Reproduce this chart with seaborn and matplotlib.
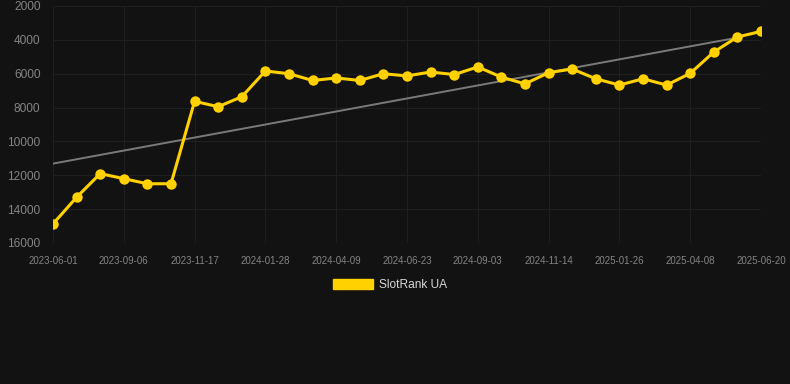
import matplotlib
matplotlib.use("Agg")
import matplotlib.pyplot as plt
from matplotlib.patches import Patch
import seaborn as sns
import pandas as pd

dates = ["2023-06-01", "2023-07-03", "2023-08-04", "2023-09-06", "2023-10-01", "2023-10-24",
         "2023-11-17", "2023-12-11", "2024-01-04", "2024-01-28", "2024-02-21", "2024-03-16",
         "2024-04-09", "2024-05-04", "2024-05-29", "2024-06-23", "2024-07-17", "2024-08-10",
         "2024-09-03", "2024-09-27", "2024-10-21", "2024-11-14", "2024-12-08", "2025-01-01",
         "2025-01-26", "2025-02-18", "2025-03-15", "2025-04-08", "2025-05-02", "2025-05-26",
         "2025-06-20"]
ranks = [14870, 13300, 11900, 12200, 12500, 12500, 7630, 7950, 7360, 5840, 6000, 6400,
         6250, 6400, 6000, 6130, 5900, 6050, 5600, 6200, 6600, 5940, 5720, 6300, 6670,
         6300, 6670, 5980, 4720, 3830, 3500]
trend_idx = [0, 29]
trend_vals = [11310, 3870]
series_name = "SlotRank UA"
y_ticks = [2000, 4000, 6000, 8000, 10000, 12000, 14000, 16000]

BG = "#121212"
YELLOW = "#FFD100"
GRID = "#1f1f1f"
TICK = "#848484"

sns.set_theme(style="dark")
plt.rcParams["font.family"] = ["Liberation Sans", "DejaVu Sans"]

df = pd.DataFrame({"idx": range(len(dates)), "rank": ranks})
tdf = pd.DataFrame({"idx": trend_idx, "rank": trend_vals})

fig = plt.figure(figsize=(7.9, 3.84), dpi=100, facecolor=BG)
ax = fig.add_axes([53 / 790, 1 - 243 / 384, (761 - 53) / 790, (243 - 6) / 384])
ax.set_facecolor(BG)

sns.lineplot(data=tdf, x="idx", y="rank", ax=ax, color="#7a7a7a", linewidth=1.4, zorder=2)
sns.lineplot(data=df, x="idx", y="rank", ax=ax, color=YELLOW, linewidth=2.2, marker="o",
             markersize=7.5, markeredgewidth=0, markerfacecolor=YELLOW, zorder=3)

ax.set_xlim(0, len(dates) - 1)
ax.set_ylim(16000, 2000)
ax.set_yticks(y_ticks)
ax.set_yticklabels([str(v) for v in y_ticks])
ax.set_xticks(list(range(0, len(dates), 3)))
ax.set_xticklabels(dates[::3])
ax.set_xlabel("")
ax.set_ylabel("")

ax.grid(True, color=GRID, linewidth=0.8)
ax.set_axisbelow(True)
for s in ax.spines.values():
    s.set_visible(False)
ax.tick_params(axis="y", colors=TICK, labelsize=8.6, length=0, pad=9)
ax.tick_params(axis="x", colors=TICK, labelsize=7.0, length=0, pad=9)
for lbl in ax.get_yticklabels() + ax.get_xticklabels():
    lbl.set_color(TICK)

handle = Patch(facecolor=YELLOW, edgecolor=YELLOW)
leg = fig.legend([handle], [series_name], loc="center", bbox_to_anchor=(390 / 790, 1 - 285 / 384),
                 frameon=False, fontsize=8.6, handlelength=3.3, handleheight=1.0,
                 handletextpad=0.5)
for t in leg.get_texts():
    t.set_color("#d8d8d8")

fig.savefig("out.png", dpi=100, facecolor=BG)
